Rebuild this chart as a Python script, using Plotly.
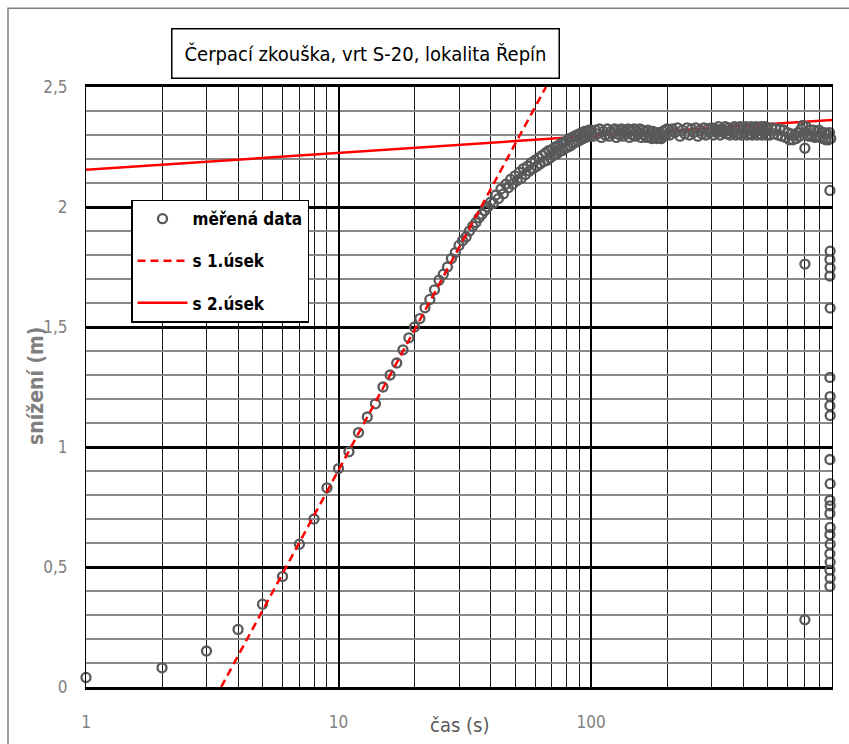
import plotly.graph_objects as go

# ---------------- data ----------------
t_early = list(range(1, 41))
s_early = [0.04, 0.08, 0.15, 0.24, 0.345, 0.46, 0.595, 0.70, 0.83, 0.91,
           0.98, 1.06, 1.125, 1.18, 1.25, 1.30, 1.35, 1.405, 1.455, 1.50,
           1.535, 1.58, 1.615, 1.655, 1.695, 1.72, 1.75, 1.785, 1.81, 1.84,
           1.86, 1.875, 1.90, 1.92, 1.935, 1.955, 1.97, 1.985, 2.00, 2.02]

t_mid = list(range(41, 101))
s_mid = [2.015, 2.05, 2.035, 2.075, 2.055, 2.095, 2.08, 2.115, 2.095, 2.13,
         2.11, 2.145, 2.12, 2.16, 2.135, 2.17, 2.15, 2.185, 2.16, 2.195,
         2.17, 2.205, 2.18, 2.215, 2.19, 2.225, 2.195, 2.235, 2.205, 2.24,
         2.215, 2.25, 2.22, 2.255, 2.23, 2.265, 2.235, 2.27, 2.245, 2.275,
         2.25, 2.285, 2.255, 2.29, 2.265, 2.295, 2.27, 2.30, 2.275, 2.305,
         2.28, 2.31, 2.285, 2.315, 2.29, 2.315, 2.295, 2.32, 2.295, 2.32]

t_late1 = list(range(102, 201, 2))
s_late1 = [2.295, 2.32, 2.305, 2.325, 2.29, 2.315, 2.30, 2.325, 2.295, 2.315,
           2.305, 2.325, 2.29, 2.32, 2.30, 2.325, 2.295, 2.315, 2.305, 2.325,
           2.29, 2.32, 2.30, 2.325, 2.295, 2.315, 2.305, 2.325, 2.29, 2.32,
           2.30, 2.315, 2.29, 2.32, 2.295, 2.31, 2.285, 2.315, 2.29, 2.305,
           2.285, 2.31, 2.29, 2.305, 2.285, 2.315, 2.295, 2.32, 2.30, 2.325]

t_late2 = list(range(205, 301, 5))
s_late2 = [2.30, 2.325, 2.31, 2.33, 2.295, 2.32, 2.305, 2.33, 2.30, 2.325,
           2.31, 2.33, 2.295, 2.32, 2.305, 2.33, 2.30, 2.325, 2.31, 2.33]

t_tail1 = list(range(305, 501, 5))
s_tail1 = [2.30, 2.325, 2.31, 2.335, 2.30, 2.325, 2.31, 2.335, 2.305, 2.33,
           2.30, 2.325, 2.31, 2.335, 2.30, 2.33, 2.305, 2.335, 2.30, 2.325,
           2.31, 2.335, 2.30, 2.33, 2.305, 2.335, 2.30, 2.325, 2.31, 2.335,
           2.30, 2.33, 2.305, 2.335, 2.30, 2.325, 2.31, 2.335, 2.30, 2.33]

t_tail2 = list(range(510, 891, 10))
s_tail2 = [2.30, 2.33, 2.305, 2.325, 2.30, 2.325, 2.295, 2.32, 2.29, 2.31,
           2.28, 2.305, 2.28, 2.30, 2.285, 2.31, 2.295, 2.325, 2.34, 2.31,
           2.335, 2.30, 2.295, 2.32, 2.295, 2.32, 2.29, 2.315, 2.295, 2.32,
           2.29, 2.31, 2.285, 2.31, 2.28, 2.305, 2.28, 2.31, 2.285]

t_rec = [703, 703, 703,
         883, 885, 883, 885, 883, 885, 883, 885, 883, 885, 883, 885,
         883, 885, 883, 885, 883, 885, 883, 885, 883, 885, 883]
s_rec = [2.245, 1.762, 0.28,
         2.069, 1.816, 1.781, 1.746, 1.712, 1.579, 1.290, 1.210, 1.172,
         1.131, 0.948, 0.847, 0.778, 0.755, 0.723, 0.665, 0.635, 0.595,
         0.555, 0.52, 0.487, 0.453, 0.42]

t_meas = t_early + t_mid + t_late1 + t_late2 + t_tail1 + t_tail2 + t_rec
s_meas = s_early + s_mid + s_late1 + s_late2 + s_tail1 + s_tail2 + s_rec

# fitted straight lines (semi-log)
s1_t = [3.43, 66.3]
s1_s = [0.0, 2.5]
s2_t = [1, 900]
s2_s = [2.155, 2.363]

x_major = [1, 10, 100]
x_major_text = ["1", "10", "100"]
x_minor = [2, 3, 4, 5, 6, 7, 8, 9, 20, 30, 40, 50, 60, 70, 80, 90,
           200, 300, 400, 500, 600, 700, 800, 900]

title_text = "Čerpací zkouška, vrt S-20, lokalita Řepín"
x_title = "čas (s)"
y_title = "snížení (m)"

# ---------------- figure ----------------
W, H = 849, 744
L, R, T, B = 86, 17, 87, 55
pw, ph = W - L - R, H - T - B

def px(x):
    return (x - L) / pw

def py(y):
    return (H - B - y) / ph

NARROW = "Liberation Sans Narrow, DejaVu Sans Condensed, Arial Narrow, sans-serif"

fig = go.Figure()

fig.add_trace(go.Scatter(
    x=s2_t, y=s2_s, mode="lines", name="s 2.úsek",
    line=dict(color="#FF0000", width=2.5), legendrank=3, legendgroup="c"))
fig.add_trace(go.Scatter(
    x=t_meas, y=s_meas, mode="markers", name="měřená data",
    marker=dict(symbol="circle-open", size=9, color="#595959",
                line=dict(width=2.3, color="#595959")),
    cliponaxis=False, legendrank=1, legendgroup="a"))
fig.add_trace(go.Scatter(
    x=s1_t, y=s1_s, mode="lines", name="s 1.úsek",
    line=dict(color="#FF0000", width=2.5, dash="8px,5px"),
    legendrank=2, legendgroup="b"))

fig.update_xaxes(
    type="log", range=[0, 2.9542425], tickvals=x_major, ticktext=x_major_text,
    showgrid=True, gridcolor="#000000", gridwidth=2,
    minor=dict(tickvals=x_minor, showgrid=True, gridcolor="#1a1a1a",
               gridwidth=1, ticks=""),
    showline=True, linecolor="#000000", linewidth=3, mirror=True,
    ticks="", ticklabelstandoff=18,
    tickfont=dict(family=NARROW, size=17, color="#808080"),
    zeroline=False)
fig.update_yaxes(
    range=[0, 2.5], dtick=0.5, tick0=0,
    showgrid=True, gridcolor="#000000", gridwidth=3,
    minor=dict(dtick=0.1, showgrid=True, gridcolor="#8a8a8a", gridwidth=2,
               ticks=""),
    showline=True, linecolor="#000000", linewidth=1, mirror=True,
    ticks="", ticklabelstandoff=14,
    tickfont=dict(family=NARROW, size=17, color="#808080"),
    zeroline=False)

fig.update_layout(
    width=W, height=H,
    margin=dict(l=L, r=R, t=T, b=B),
    paper_bgcolor="white", plot_bgcolor="white",
    separators=", ",
    showlegend=True,
    legend=dict(
        x=px(131), y=py(200), xanchor="left", yanchor="top",
        bgcolor="white", bordercolor="#000000", borderwidth=1.5,
        font=dict(family=NARROW, size=17, color="#000000", weight="bold"),
        traceorder="grouped", tracegroupgap=17, itemwidth=50,
        entrywidth=110, entrywidthmode="pixels"),
    shapes=[dict(type="rect", xref="paper", yref="paper",
                 x0=px(8), y0=py(8), x1=px(900), y1=py(800),
                 line=dict(color="#7f7f7f", width=1.5), layer="below")],
    annotations=[
        dict(text=title_text, xref="paper", yref="paper",
             x=px(365), y=py(53), xanchor="center", yanchor="middle",
             showarrow=False, bgcolor="white", bordercolor="#000000",
             borderwidth=1.5, borderpad=12,
             font=dict(family=NARROW, size=20, color="#000000")),
        dict(text=x_title, xref="paper", yref="paper",
             x=px(459), y=py(727), xanchor="center", yanchor="middle",
             showarrow=False,
             font=dict(family=NARROW, size=20, color="#595959")),
        dict(text=y_title, xref="paper", yref="paper",
             x=px(36), y=py(387), xanchor="center", yanchor="middle",
             showarrow=False, textangle=-90,
             font=dict(family=NARROW, size=21, color="#7f7f7f",
                       weight="bold")),
    ],
)

fig.write_html("out.html")
